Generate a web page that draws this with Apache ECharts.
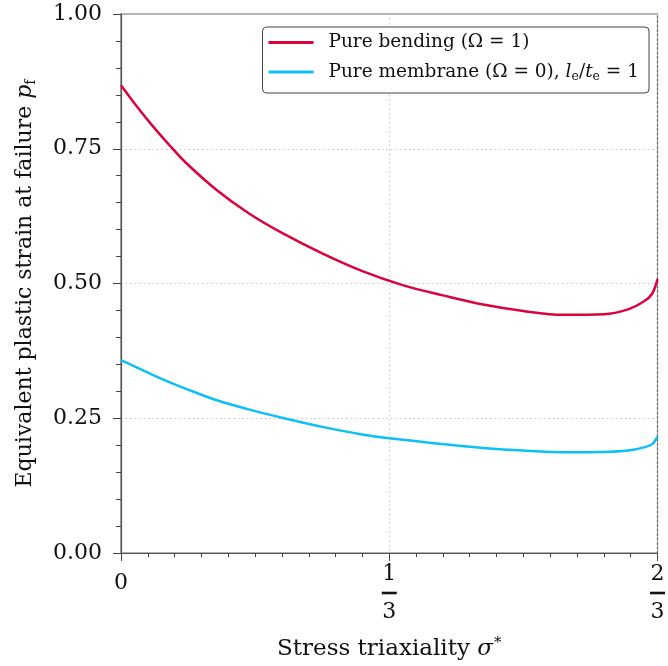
<!DOCTYPE html>
<html>
<head>
<meta charset="utf-8">
<script src="https://cdn.jsdelivr.net/npm/echarts@6/dist/echarts.min.js"></script>
<style>
  html, body { margin: 0; padding: 0; background: #fff; }
  #chart { width: 668px; height: 666px; }
</style>
</head>
<body>
<div id="chart"></div>
<script>
// Stress triaxiality sample points (sigma*)
const triax = [0, 0.02, 0.04, 0.06, 0.08, 0.12, 0.16, 0.20, 0.25, 0.30, 0.35, 0.40, 0.45, 0.50, 0.55, 0.60, 0.63, 0.65, 0.66, 0.6667];
// Equivalent plastic strain at failure, pure bending (Omega = 1)
const strainBending = [0.868, 0.828, 0.791, 0.757, 0.725, 0.672, 0.629, 0.594, 0.556, 0.523, 0.497, 0.478, 0.461, 0.449, 0.442, 0.443, 0.452, 0.467, 0.481, 0.508];
// Equivalent plastic strain at failure, pure membrane (Omega = 0), le/te = 1
const strainMembrane = [0.358, 0.344, 0.330, 0.317, 0.305, 0.283, 0.266, 0.251, 0.234, 0.220, 0.210, 0.202, 0.195, 0.190, 0.187, 0.1875, 0.190, 0.196, 0.202, 0.216];

const xTickLabels = { 0: '0', 1: '1/3', 2: '2/3' };

const FONT = 'DejaVu Serif';
const INK = '#111';
const RED = '#d9043d';
const BLUE = '#0cc0f6';

const pairs = (xs, ys) => xs.map((x, i) => [x, ys[i]]);

const chart = echarts.init(document.getElementById('chart'));
chart.setOption({
  animation: false,
  grid: {
    left: 121, right: 9, top: 14, bottom: 113,
    show: true, borderColor: '#666', borderWidth: 1.2, backgroundColor: 'transparent'
  },
  legend: {
    right: 19, top: 27,
    orient: 'vertical',
    backgroundColor: '#fff',
    borderColor: '#444', borderWidth: 1, borderRadius: 4,
    padding: [6, 10, 10, 6],
    itemGap: 9,
    itemWidth: 45, itemHeight: 3,
    icon: 'rect',
    textStyle: {
      fontFamily: FONT, fontSize: 18.5, color: INK,
      padding: [0, 0, 0, 10],
      rich: {
        t: { fontFamily: FONT, fontSize: 18.5, color: INK, lineHeight: 22 },
        i: { fontFamily: FONT, fontSize: 18.5, fontStyle: 'italic', color: INK, lineHeight: 22 },
        s: { fontFamily: FONT, fontSize: 12.5, color: INK, lineHeight: 22, padding: [9, 0, 0, 0] }
      }
    },
    formatter: function (name) {
      if (name === 'membrane') {
        return '{t|Pure membrane (Ω = 0), }{i|l}{s|e}{t|/}{i|t}{s|e}{t| = 1}';
      }
      return '{t|Pure bending (Ω = 1)}';
    },
    data: ['bending', 'membrane']
  },
  xAxis: {
    type: 'value',
    min: 0, max: 2 / 3, interval: 1 / 3,
    name: '{t|Stress triaxiality }{i|σ}{sup|*}',
    nameLocation: 'middle',
    nameGap: 83,
    nameTextStyle: {
      rich: {
        t: { fontFamily: FONT, fontSize: 23, color: INK },
        i: { fontFamily: FONT, fontSize: 23, fontStyle: 'italic', color: INK },
        sup: { fontFamily: FONT, fontSize: 15, color: INK, padding: [0, 0, 12, 1] }
      }
    },
    axisLine: { lineStyle: { color: '#555', width: 1.2 } },
    axisTick: { show: true, length: 8, lineStyle: { color: '#444' } },
    minorTick: { show: true, splitNumber: 10, length: 4, lineStyle: { color: '#444' } },
    splitLine: { show: true, lineStyle: { color: '#c4c4c4', type: [1.5, 3], width: 1 } },
    axisLabel: {
      margin: 10,
      fontFamily: FONT,
      fontSize: 22,
      color: INK,
      verticalAlign: 'top',
      formatter: function (v) {
        const k = Math.round(v * 3);
        const s = xTickLabels[k];
        if (s === '0') return '{z|0}';
        const parts = s.split('/');
        return '{n|' + parts[0] + '}\n{b| }\n{d|' + parts[1] + '}';
      },
      rich: {
        z: { fontFamily: FONT, fontSize: 22, color: INK, lineHeight: 40 },
        n: { fontFamily: FONT, fontSize: 22, color: INK, lineHeight: 22, align: 'center' },
        b: { width: 15, height: 2.6, lineHeight: 16, backgroundColor: INK, fontSize: 2 },
        d: { fontFamily: FONT, fontSize: 22, color: INK, lineHeight: 22, align: 'center' }
      }
    }
  },
  yAxis: {
    type: 'value',
    min: 0, max: 1, interval: 0.25,
    name: '{t|Equivalent plastic strain at failure }{i|p}{s|f}',
    nameLocation: 'middle',
    nameGap: 83,
    nameTextStyle: {
      rich: {
        t: { fontFamily: FONT, fontSize: 22, color: INK },
        i: { fontFamily: FONT, fontSize: 22, fontStyle: 'italic', color: INK },
        s: { fontFamily: FONT, fontSize: 14, color: INK, padding: [11, 0, 0, 0] }
      }
    },
    axisLine: { show: true, lineStyle: { color: '#555', width: 1.2 } },
    axisTick: { show: true, length: 8, lineStyle: { color: '#444' } },
    minorTick: { show: true, splitNumber: 5, length: 5, lineStyle: { color: '#444' } },
    splitLine: { show: true, lineStyle: { color: '#c4c4c4', type: [1.5, 3], width: 1 } },
    axisLabel: {
      margin: 19,
      fontFamily: FONT,
      fontSize: 22,
      color: INK,
      formatter: function (v) { return v.toFixed(2); }
    }
  },
  series: [
    {
      name: 'bending',
      type: 'line',
      data: pairs(triax, strainBending),
      showSymbol: false,
      smooth: 0.35,
      lineStyle: { color: RED, width: 2.5 },
      itemStyle: { color: RED }
    },
    {
      name: 'membrane',
      type: 'line',
      data: pairs(triax, strainMembrane),
      showSymbol: false,
      smooth: 0.35,
      lineStyle: { color: BLUE, width: 2.5 },
      itemStyle: { color: BLUE }
    }
  ]
});
</script>
</body>
</html>
